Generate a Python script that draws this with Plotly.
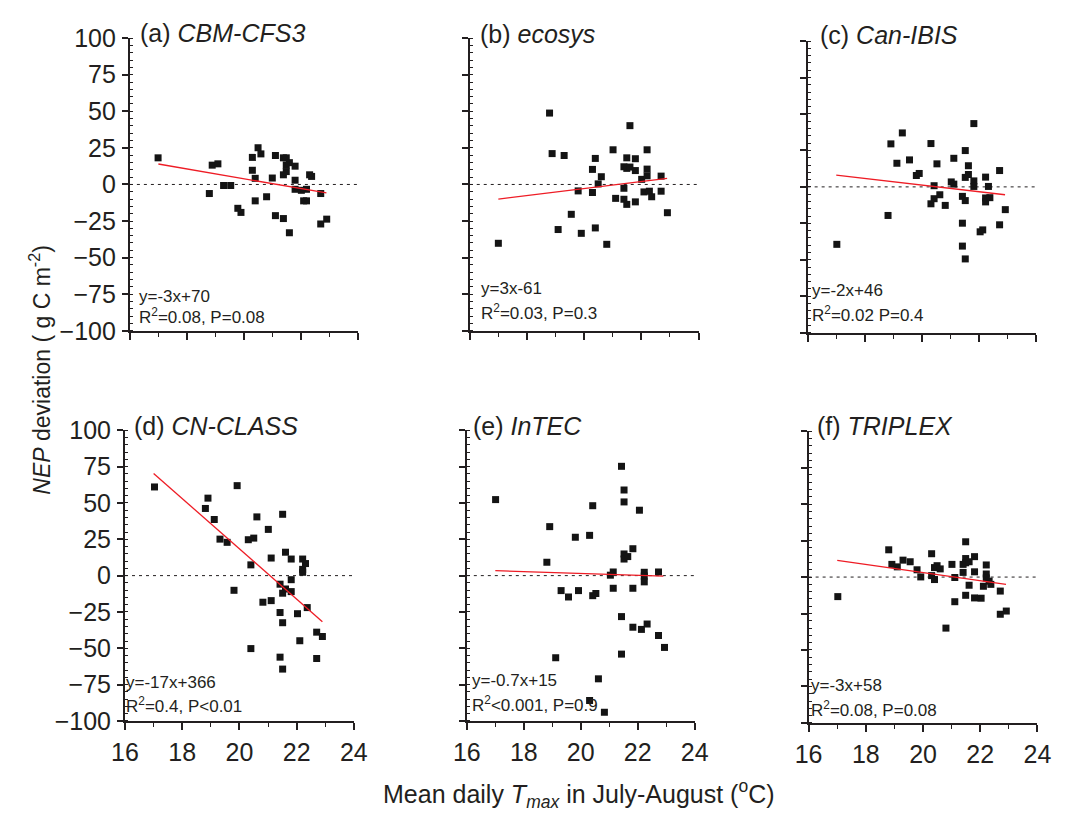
import plotly.graph_objects as go

# ---------------- data ----------------
x_a = [16.99, 18.79, 18.89, 19.09, 19.29, 19.54, 19.79, 19.90, 20.30, 20.30, 20.40, 20.40, 20.50, 20.60,
       20.80, 21.00, 21.11, 21.11, 21.39, 21.39, 21.39, 21.49, 21.49, 21.49, 21.60, 21.60, 21.80, 21.80,
       21.80, 22.02, 22.10, 22.20, 22.20, 22.31, 22.38, 22.70, 22.70, 22.91]
y_a = [18.2, -6.2, 13.2, 14.1, -0.7, -0.7, -16.3, -19.1, 18.5, 9.7, 4.2, -11.2, 25.1, 20.9,
       -8.4, 4.4, 19.8, -21.3, 18.2, 6.6, -23.3, 18.2, 13.2, 8.8, 14.9, -33.0, 12.5, 2.9,
       -3.3, -4.0, -11.2, -11.2, -3.3, 6.6, 5.5, -6.2, -27.0, -23.7]

x_b = [17.00, 18.79, 18.88, 19.30, 19.09, 19.55, 19.79, 19.90, 20.29, 20.29, 20.39, 20.39, 20.49, 20.60,
       20.79, 21.01, 21.10, 21.39, 21.39, 21.39, 21.49, 21.49, 21.49, 21.60, 21.60, 21.79, 21.79, 21.79,
       22.01, 22.09, 22.20, 22.20, 22.20, 22.28, 22.36, 22.69, 22.69, 22.91]
y_b = [-40.2, 48.8, 21.1, 19.8, -30.8, -20.4, -4.4, -33.4, 10.3, -5.5, 17.8, -29.7, 0.4, 5.3,
       -40.9, 23.7, -9.5, 12.1, -2.6, -10.1, 18.2, 11.0, -13.6, 40.2, 11.9, 17.6, 9.5, -11.9,
       3.5, -5.1, 23.7, 10.5, 5.9, -4.6, -8.4, 5.7, -4.6, -19.3]

x_c = [17.02, 18.81, 18.91, 19.12, 19.31, 19.56, 19.80, 19.90, 20.31, 20.31, 20.42, 20.42, 20.52, 20.62,
       20.81, 21.02, 21.11, 21.11, 21.41, 21.41, 21.41, 21.51, 21.51, 21.51, 21.51, 21.62, 21.62, 21.81,
       21.81, 21.81, 22.03, 22.12, 22.22, 22.22, 22.22, 22.32, 22.37, 22.71, 22.71, 22.91]
y_c = [-39.4, -19.6, 29.5, 16.2, 37.0, 18.5, 7.8, 9.2, 29.7, -11.6, 0.8, -8.1, 15.8, -5.4,
       -12.7, 3.4, 19.6, 1.9, -6.5, -24.9, -40.6, 24.9, 6.5, -9.4, -49.4, 14.5, 8.5, 43.4,
       4.1, 0.3, -30.8, -29.5, 6.7, -7.6, -10.3, 0.3, -7.4, 11.2, -26.0, -15.6]

x_d = [17.03, 18.81, 18.90, 19.12, 19.32, 19.57, 19.92, 19.81, 20.31, 20.50, 20.40, 20.61, 20.40, 20.82,
       21.01, 21.11, 21.11, 21.42, 21.42, 21.42, 21.51, 21.51, 21.51, 21.51, 21.61, 21.61, 21.81, 21.81,
       21.81, 22.03, 22.11, 22.21, 22.21, 22.21, 22.31, 22.37, 22.70, 22.70, 22.90]
y_d = [61.0, 46.2, 53.3, 38.6, 25.1, 22.9, 61.9, -10.1, 24.7, 25.8, 7.4, 40.4, -50.2, -18.3,
       31.8, 12.1, -17.2, -5.9, -25.4, -56.1, 42.2, -12.1, -32.4, -64.3, 16.1, -9.2, 11.4, -2.8,
       -11.0, -26.2, -44.8, 11.4, 4.3, 2.3, 8.3, -22.0, -38.9, -57.0, -41.9]

x_e = [17.01, 18.81, 18.91, 19.12, 19.31, 19.57, 19.81, 19.92, 20.31, 20.31, 20.42, 20.42, 20.53, 20.62,
       20.83, 21.04, 21.14, 21.14, 21.43, 21.43, 21.43, 21.52, 21.52, 21.52, 21.52, 21.65, 21.83, 21.83,
       21.83, 22.06, 22.13, 22.23, 22.23, 22.23, 22.33, 22.73, 22.73, 22.94]
y_e = [52.3, 9.2, 33.7, -56.5, -10.3, -14.7, 26.4, -10.3, 27.7, -85.9, 48.1, -13.8, -12.3, -71.0,
       -94.0, 0.3, 2.5, -8.7, 75.2, -28.2, -54.0, 58.9, 50.7, 14.9, 11.4, 13.1, 18.5, -8.7,
       -35.5, 45.0, -37.0, 2.3, -0.3, -4.3, -33.3, 2.5, -41.2, -49.4]

x_f = [17.02, 18.80, 18.91, 19.10, 19.30, 19.55, 19.79, 19.92, 20.30, 20.30, 20.40, 20.40, 20.49, 20.60,
       20.80, 21.01, 21.11, 21.11, 21.40, 21.40, 21.49, 21.49, 21.49, 21.49, 21.61, 21.61, 21.80, 21.80,
       21.80, 22.03, 22.11, 22.21, 22.21, 22.21, 22.31, 22.37, 22.70, 22.70, 22.91]
y_f = [-13.4, 18.7, 8.7, 7.0, 11.6, 10.5, 5.0, 0.1, 16.0, 1.0, 6.5, -1.7, 7.8, 5.6,
       -35.0, 8.7, -0.3, -16.9, 8.7, 3.2, 24.2, 12.7, 9.8, -12.5, 10.5, -5.6, 14.0, 3.6,
       -14.3, -14.5, -6.3, 8.3, 2.1, -0.6, -2.8, -5.0, -9.6, -25.5, -23.3]

# regression line end points (as drawn)
fit_x = [17.0, 22.9]
fit_a = [14.0, -5.8]
fit_b = [-10.0, 4.2]
fit_c = [8.0, -5.4]
fit_d = [70.3, -31.8]
fit_e = [3.4, -0.3]
fit_f = [11.4, -5.0]

zero_x = [16, 24]
zero_y = [0, 0]

labels = ["(a)", "(b)", "(c)", "(d)", "(e)", "(f)"]
models = ["CBM-CFS3", "ecosys", "Can-IBIS", "CN-CLASS", "InTEC", "TRIPLEX"]
eq_lines = ["y=-3x+70", "y=3x-61", "y=-2x+46", "y=-17x+366", "y=-0.7x+15", "y=-3x+58"]
stat_lines = ["R<sup>2</sup>=0.08, P=0.08", "R<sup>2</sup>=0.03, P=0.3", "R<sup>2</sup>=0.02 P=0.4",
              "R<sup>2</sup>=0.4, P<0.01", "R<sup>2</sup><0.001, P=0.9", "R<sup>2</sup>=0.08, P=0.08"]

x_ticks = [16, 18, 20, 22, 24]
y_ticks = [-100, -75, -50, -25, 0, 25, 50, 75, 100]

xs = [x_a, x_b, x_c, x_d, x_e, x_f]
ys = [y_a, y_b, y_c, y_d, y_e, y_f]
fits = [fit_a, fit_b, fit_c, fit_d, fit_e, fit_f]

# ---------------- layout geometry (pixels) ----------------
W, H = 1069, 819
boxes = [(119, 353, 25, 328), (468, 703, 25, 328), (815, 1050, 28, 330),
         (114, 349, 431, 732), (465, 699, 431, 732), (816, 1051, 432, 734)]
title_pos = [(127, 20), (476, 21), (826, 22), (121, 427), (469, 427), (823, 427)]
eq_pos = [(126, 292, 315), (477, 284, 311), (817, 286, 313),
          (113, 692, 717), (468, 690, 716), (816, 695, 722)]

INK = "#231f20"
FONT = "Liberation Sans, Arial, sans-serif"

def px(x):
    return x / W

def py(y):
    return 1 - y / H

fig = go.Figure()
layout = dict(width=W, height=H, margin=dict(l=0, r=0, t=0, b=0),
              paper_bgcolor="white", plot_bgcolor="white", showlegend=False,
              font=dict(family=FONT, color=INK))
annotations = []

for i in range(6):
    n = i + 1
    xa = "x" if n == 1 else f"x{n}"
    ya = "y" if n == 1 else f"y{n}"
    L, R, T, B = boxes[i]
    fig.add_trace(go.Scatter(x=zero_x, y=zero_y, mode="lines", xaxis=xa, yaxis=ya,
                             line=dict(color=INK, width=1, dash="3px,4px")))
    fig.add_trace(go.Scatter(x=xs[i], y=ys[i], mode="markers", xaxis=xa, yaxis=ya,
                             marker=dict(symbol="square", size=7, color="#141414",
                                         line=dict(width=0)), cliponaxis=False))
    fig.add_trace(go.Scatter(x=fit_x, y=fits[i], mode="lines", xaxis=xa, yaxis=ya,
                             line=dict(color="#ee1c25", width=1.3)))
    bottom_row = i >= 3
    left_col = i in (0, 3)
    layout["xaxis" if n == 1 else f"xaxis{n}"] = dict(
        domain=[px(L), px(R)], anchor=ya, range=[16, 24], tickvals=x_ticks,
        showticklabels=bottom_row, ticks="outside", ticklen=7, tickwidth=1.6, tickcolor=INK,
        minor=dict(dtick=1, ticks="outside", ticklen=4, tickwidth=1.4, tickcolor=INK),
        showline=True, linewidth=2, linecolor=INK, showgrid=False, zeroline=False,
        tickfont=dict(size=25, color=INK, family=FONT), ticklabelstandoff=1)
    layout["yaxis" if n == 1 else f"yaxis{n}"] = dict(
        domain=[py(B), py(T)], anchor=xa, range=[-100, 100], tickvals=y_ticks,
        showticklabels=left_col, ticks="outside", ticklen=6, tickwidth=1.6, tickcolor=INK,
        minor=dict(dtick=5, ticks="inside", ticklen=3, tickwidth=1.3, tickcolor=INK),
        showline=True, linewidth=2, linecolor=INK, showgrid=False, zeroline=False,
        tickfont=dict(size=25, color=INK, family=FONT), ticklabelstandoff=1)
    tx, ty = title_pos[i]
    annotations.append(dict(xref="paper", yref="paper", x=px(tx), y=py(ty), xanchor="left",
                            yanchor="middle", showarrow=False,
                            text=f"{labels[i]} <i>{models[i]}</i>",
                            font=dict(size=25, color=INK, family=FONT)))
    ex, ey1, ey2 = eq_pos[i]
    annotations.append(dict(xref="paper", yref="paper", x=px(ex), y=py(ey1), xanchor="left",
                            yanchor="middle", showarrow=False, text=eq_lines[i],
                            font=dict(size=17, color=INK, family=FONT)))
    annotations.append(dict(xref="paper", yref="paper", x=px(ex), y=py(ey2 - 2), xanchor="left",
                            yanchor="middle", showarrow=False, text=stat_lines[i],
                            font=dict(size=17, color=INK, family=FONT)))

annotations.append(dict(xref="paper", yref="paper", x=px(27), y=py(368), xanchor="center",
                        yanchor="middle", showarrow=False, textangle=-90,
                        text="<i>NEP</i> deviation ( g C m<sup>-2</sup>)",
                        font=dict(size=23, color=INK, family=FONT)))
annotations.append(dict(xref="paper", yref="paper", x=px(580), y=py(808), xanchor="center",
                        yanchor="middle", showarrow=False,
                        text="Mean daily <i>T</i><sub><i>max</i></sub> in July-August (<sup>o</sup>C)",
                        font=dict(size=25, color=INK, family=FONT)))

layout["annotations"] = annotations
fig.update_layout(**layout)
fig.write_html("out.html")
